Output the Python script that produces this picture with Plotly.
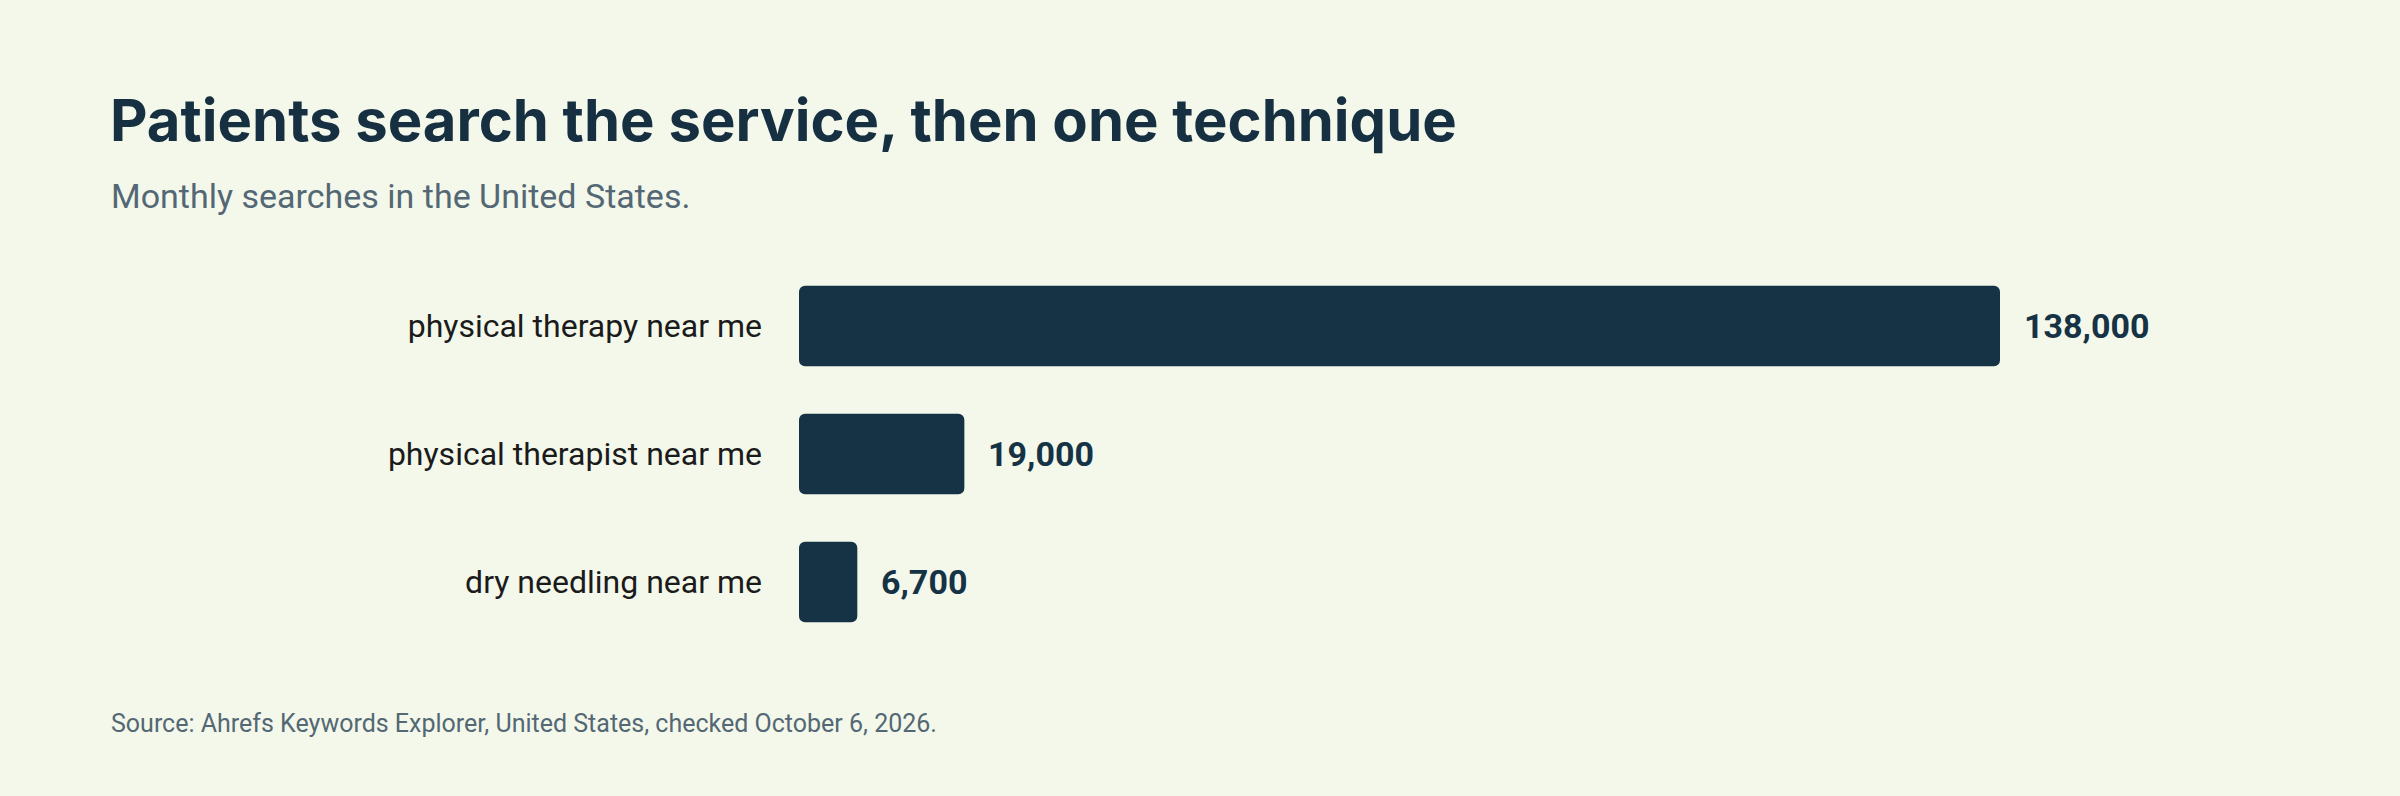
import plotly.graph_objects as go

categories = ["physical therapy near me", "physical therapist near me", "dry needling near me"]
values = [138000, 19000, 6700]
value_labels = ["138,000", "19,000", "6,700"]

title = "Patients search the service, then one technique"
subtitle = "Monthly searches in the United States."
source = "Source: Ahrefs Keywords Explorer, United States, checked October 6, 2026."

BG = "#f3f8eb"
BAR = "#163245"
W, H = 2400, 796
L, R, T, B = 799, 400, 262, 150

fig = go.Figure()
fig.add_trace(go.Bar(y=categories, x=values, base=[1e-6] * len(values), orientation="h",
                     marker=dict(color=BAR, cornerradius=6, line=dict(width=0)),
                     width=0.63, hoverinfo="skip"))

annotations = []
for c, v, t in zip(categories, values, value_labels):
    annotations.append(dict(x=v, y=c, xref="x", yref="y", text=t, showarrow=False,
                            xanchor="left", yanchor="middle", xshift=22,
                            font=dict(family="Roboto", size=34, color=BAR, weight="bold")))

pw = W - L - R
ph = H - T - B
def px_x(p):
    return (p - L) / pw
def px_y(p):
    return (H - B - p) / ph

annotations.append(dict(x=px_x(109), y=px_y(196), xref="paper", yref="paper", text=subtitle,
                        showarrow=False, xanchor="left", yanchor="middle",
                        font=dict(family="Roboto", size=34, color="#536874")))
annotations.append(dict(x=px_x(109), y=px_y(723), xref="paper", yref="paper", text=source,
                        showarrow=False, xanchor="left", yanchor="middle",
                        font=dict(family="Roboto", size=25, color="#536874")))

fig.update_layout(
    width=W, height=H,
    paper_bgcolor=BG, plot_bgcolor=BG,
    margin=dict(l=L, r=R, t=T, b=B),
    barmode="overlay",
    showlegend=False,
    title=dict(text=title, xref="container", yref="container", x=110 / W, xanchor="left",
               y=1 - 100 / H, yanchor="top",
               font=dict(family="Inter", size=58, color="#163042", weight="bold")),
    xaxis=dict(range=[0, max(values)], visible=False, fixedrange=True),
    yaxis=dict(autorange="reversed", showgrid=False, zeroline=False, showline=False,
               ticks="", ticklabelstandoff=36,
               tickfont=dict(family="Roboto", size=32, color="#1b1b1b")),
    annotations=annotations,
)

fig.write_html("out.html")
